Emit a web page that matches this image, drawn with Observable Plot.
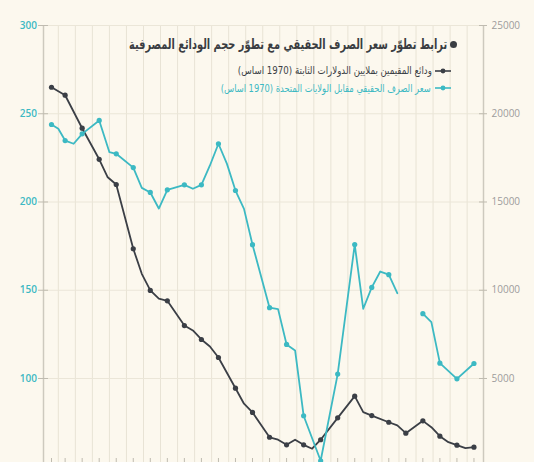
<!DOCTYPE html>
<html><head><meta charset="utf-8">
<script src="https://cdn.jsdelivr.net/npm/d3@7"></script>
<script src="https://cdn.jsdelivr.net/npm/@observablehq/plot@0.6"></script>
<style>
body{margin:0;background:#fcf8ee;}
#wrap{position:relative;width:534px;height:462px;overflow:hidden;background:#fcf8ee;}
#wrap svg{position:absolute;left:0;top:0;}
.ov{position:absolute;direction:rtl;white-space:nowrap;font-family:"DejaVu Sans",sans-serif;line-height:1;transform-origin:100% 50%;}
</style></head>
<body><div id="wrap"></div>
<script>
const tealX = [0.2, 0.6, 1, 1.5, 2, 3, 3.6, 4, 5, 5.5, 6, 6.5, 7, 8, 8.5, 9, 9.5, 10, 10.5, 11, 11.5, 12, 13, 13.5, 14, 14.5, 15, 16, 17, 18, 18.5, 19, 19.5, 20, 20.5, 21, 22, 22.5, 23, 24, 25];
const tealV = [243.9, 241.5, 234.8, 233.0, 238.6, 246.2, 228.2, 227.3, 219.5, 208.0, 205.4, 196.3, 206.9, 209.7, 207.5, 209.7, 220.7, 233.0, 221.6, 206.5, 196.1, 175.8, 140.1, 139.3, 119.3, 115.9, 78.9, 53.4, 102.5, 175.9, 139.5, 151.6, 160.6, 158.8, 148.3, null, 136.7, 131.9, 108.7, 99.8, 108.5];
const darkX = [0.2, 1, 2, 3, 3.5, 4, 5, 5.5, 6, 6.5, 7, 8, 8.5, 9, 9.5, 10, 11, 11.5, 12, 13, 13.5, 14, 14.5, 15, 15.5, 16, 17, 18, 18.5, 19, 20, 20.5, 21, 22, 22.5, 23, 23.5, 24, 24.5, 25];
const darkR = [21500, 21050, 19180, 17420, 16400, 15990, 12350, 10930, 9990, 9520, 9400, 8000, 7720, 7210, 6810, 6190, 4450, 3570, 3080, 1670, 1530, 1240, 1530, 1240, 1020, 1530, 2770, 4000, 3090, 2900, 2520, 2340, 1900, 2600, 2240, 1730, 1390, 1220, 1050, 1110];
const dotX = [0.2, 1, 2, 3, 4, 5, 6, 7, 8, 9, 10, 11, 12, 13, 14, 15, 16, 17, 18, 19, 20, 21, 22, 23, 24, 25];
const gridX = [0.6, 1.6, 2.6, 3.6, 4.6, 5.6, 6.6, 7.6, 8.6, 9.6, 10.6, 11.6, 12.6, 13.6, 14.6, 15.6, 16.6, 17.6, 18.6, 19.6, 20.6, 21.6, 22.6, 23.6, 24.6];
const leftTicks = [100, 150, 200, 250, 300];
const rightTickLabels = ["5000", "10000", "15000", "20000", "25000"];
const xDomain = [-0.27, 25.56];
const yDomain = [52.4, 300];
const titleText = "ترابط تطوّر سعر الصرف الحقيقي مع تطوّر حجم الودائع المصرفية";
const legendDark = "ودائع المقيمين بملايين الدولارات الثابتة (1970 اساس)";
const legendTeal = "سعر الصرف الحقيقي مقابل الولايات المتحدة (1970 اساس)";

const TEAL = "#3cb9c3", DARK = "#3b3f46";
const teal = tealX.map((x, i) => ({x, v: tealV[i]}));
const dark = darkX.map((x, i) => ({x, v: darkR[i] / 100 + 50}));
const tealDots = teal.filter(d => d.v != null && dotX.includes(d.x));
const darkDots = dark.filter(d => dotX.includes(d.x));

const chart = Plot.plot({
  width: 534, height: 462,
  marginLeft: 43, marginRight: 51, marginTop: 25, marginBottom: 0,
  x: {domain: xDomain, axis: null},
  y: {domain: yDomain, axis: null},
  style: {background: "transparent", fontFamily: "Open Sans"},
  marks: [
    Plot.ruleX(gridX, {x: d => d, stroke: "#e8e3d5", strokeWidth: 1}),
    Plot.ruleY(leftTicks, {y: d => d, stroke: "#ebe6d8", strokeWidth: 1}),
    Plot.ruleX(xDomain, {x: d => d, stroke: "#cdc9be", strokeWidth: 1.5}),
    Plot.ruleY(leftTicks, {y: d => d, x1: xDomain[0], x2: xDomain[0], insetLeft: -5, insetRight: -5, stroke: "#bfbbb0"}),
    Plot.ruleY(leftTicks, {y: d => d, x1: xDomain[1], x2: xDomain[1], insetLeft: -4, insetRight: -4, stroke: "#bfbbb0"}),
    Plot.ruleX(dotX, {x: d => d, y1: yDomain[0], y2: yDomain[0], insetTop: -4, stroke: "#bfbbb0"}),
    Plot.text(leftTicks, {y: d => d, frameAnchor: "left", dx: -6.5, textAnchor: "end", text: d => String(d), fill: TEAL, fontSize: 10, fontWeight: 600}),
    Plot.text(leftTicks, {y: d => d, frameAnchor: "right", dx: 8, textAnchor: "start", text: (d, i) => rightTickLabels[i], fill: "#9c9c9c", fontSize: 10}),
    Plot.line(dark, {x: "x", y: "v", stroke: DARK, strokeWidth: 1.8}),
    Plot.dot(darkDots, {x: "x", y: "v", r: 2.6, fill: DARK}),
    Plot.line(teal, {x: "x", y: "v", stroke: TEAL, strokeWidth: 1.8}),
    Plot.dot(tealDots, {x: "x", y: "v", r: 2.6, fill: TEAL})
  ]
});
const wrap = document.getElementById("wrap");
wrap.appendChild(chart);

// text fitted horizontally to the reference width, keeping its height
function addText(str, color, size, weight, rightEdge, targetW, cy) {
  const d = document.createElement("div");
  d.className = "ov";
  d.textContent = str;
  d.style.color = color; d.style.fontSize = size + "px"; d.style.fontWeight = weight;
  d.style.right = (534 - rightEdge) + "px"; d.style.top = "0px";
  wrap.appendChild(d);
  const r = d.getBoundingClientRect();
  d.style.transform = `scaleX(${(targetW / r.width).toFixed(4)})`;
  d.style.top = (cy - r.height / 2).toFixed(1) + "px";
}
function addSwatch(color, x1, x2, cy) {
  const s = document.createElementNS("http://www.w3.org/2000/svg", "svg");
  s.setAttribute("width", x2 - x1); s.setAttribute("height", 8);
  s.style.position = "absolute"; s.style.left = x1 + "px"; s.style.top = (cy - 4) + "px";
  s.innerHTML = `<line x1="0" y1="4" x2="${x2 - x1}" y2="4" stroke="${color}" stroke-width="1.6"/><circle cx="${(x2 - x1) / 2}" cy="4" r="2.4" fill="${color}"/>`;
  wrap.appendChild(s);
}
addText(titleText, "#3a3d42", 14, "bold", 447, 318, 44);
const bullet = document.createElement("div");
bullet.style.cssText = "position:absolute;left:450px;top:41px;width:7px;height:7px;border-radius:50%;background:#3a3d42;";
wrap.appendChild(bullet);
addText(legendDark, DARK, 10.5, "normal", 432, 194, 70.5);
addSwatch(DARK, 435, 451, 70.5);
addText(legendTeal, TEAL, 10.5, "normal", 431, 210, 88);
addSwatch(TEAL, 435, 451, 88);
</script></body></html>
